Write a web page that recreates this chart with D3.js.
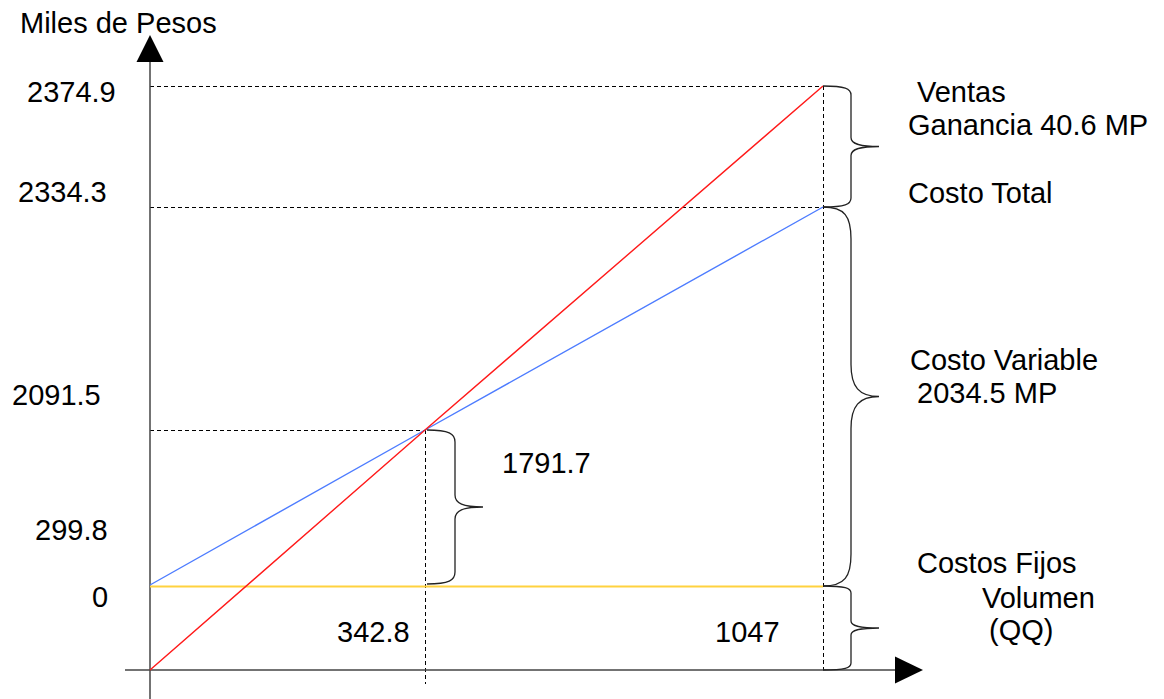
<!DOCTYPE html>
<html>
<head>
<meta charset="utf-8">
<script src="https://cdn.jsdelivr.net/npm/d3@7"></script>
<style>
  html, body { margin: 0; padding: 0; background: #fff; }
  svg { display: block; }
  text { font-family: "Liberation Sans", Arial, sans-serif; font-size: 29px; fill: #000; }
</style>
</head>
<body>
<svg id="chart" width="1164" height="699"></svg>
<script>
// ---------- data ----------
const quantities   = [0, 342.8, 1047];          // Volumen (QQ)
const ventas       = [0, 2091.5, 2374.9];       // Ventas
const costoTotal   = [299.8, 2091.5, 2334.3];   // Costo Total
const costosFijos  = [299.8, 299.8, 299.8];     // Costos Fijos
const yTickLabels  = ["2374.9", "2334.3", "2091.5", "299.8", "0"];
const xTickLabels  = ["342.8", "1047"];
const yAxisTitle   = "Miles de Pesos";
const breakEvenGap = "1791.7";
const rightNotes   = ["Ventas", "Ganancia 40.6 MP", "Costo Total", "Costo Variable", "2034.5 MP", "Costos Fijos", "Volumen", "(QQ)"];

// ---------- scales (schematic, piecewise) ----------
const x = d3.scaleLinear().domain([0, 342.8, 1047]).range([150, 425, 823]);
const y = d3.scaleLinear().domain([0, 299.8, 2091.5, 2334.3, 2374.9]).range([670, 585, 430, 207, 86]);

const svg = d3.select("#chart");
const axisColor = "#444";
const last = quantities.length - 1;

// ---------- dashed guide lines ----------
const dash = "4,3";
const guides = svg.append("g").attr("stroke", "#000").attr("stroke-width", 1)
  .attr("stroke-dasharray", dash).attr("shape-rendering", "crispEdges");
guides.append("line").attr("x1", x(0)).attr("x2", x(quantities[last])).attr("y1", y(ventas[last])).attr("y2", y(ventas[last]));
guides.append("line").attr("x1", x(0)).attr("x2", x(quantities[last])).attr("y1", y(costoTotal[last])).attr("y2", y(costoTotal[last]));
guides.append("line").attr("x1", x(0)).attr("x2", x(quantities[1])).attr("y1", y(ventas[1])).attr("y2", y(ventas[1]));
guides.append("line").attr("x1", x(quantities[last])).attr("x2", x(quantities[last])).attr("y1", y(ventas[last])).attr("y2", y(0));
guides.append("line").attr("x1", x(quantities[1])).attr("x2", x(quantities[1])).attr("y1", y(ventas[1])).attr("y2", y(0) + 14);

// ---------- axes ----------
const axes = svg.append("g").attr("stroke", axisColor).attr("stroke-width", 1.5);
axes.append("line").attr("x1", x(0)).attr("x2", x(0)).attr("y1", 60).attr("y2", 699);
axes.append("line").attr("x1", x(0) - 25).attr("x2", 897).attr("y1", y(0)).attr("y2", y(0));
svg.append("path").attr("d", `M${x(0) - 13.5},62 L${x(0) + 13.5},62 L${x(0)},35 Z`).attr("fill", "#000");
svg.append("path").attr("d", `M895,${y(0) - 13.5} L895,${y(0) + 13.5} L923,${y(0)} Z`).attr("fill", "#000");

// ---------- series lines ----------
const lineGen = vals => d3.line().x((d, i) => x(quantities[i])).y(d => y(d))(vals);
svg.append("path").attr("d", lineGen(costosFijos)).attr("fill", "none").attr("stroke", "#ffd23f").attr("stroke-width", 2)
  .attr("transform", "translate(0,1.5)");
svg.append("path").attr("d", lineGen(costoTotal)).attr("fill", "none").attr("stroke", "#4d7cff").attr("stroke-width", 1.4);
svg.append("path").attr("d", lineGen(ventas)).attr("fill", "none").attr("stroke", "#ff1a1a").attr("stroke-width", 1.4);

// ---------- braces ----------
function brace(x0, y0, y1, r, t) {
  const xv = x0 + 28, xt = x0 + 56, ym = (y0 + y1) / 2;
  return `M${x0},${y0} C${x0 + 22},${y0} ${xv},${y0 + r * 0.3} ${xv},${y0 + r}` +
         ` L${xv},${ym - t}` +
         ` C${xv},${ym - t * 0.3} ${xv + 8},${ym} ${xt},${ym}` +
         ` C${xv + 8},${ym} ${xv},${ym + t * 0.3} ${xv},${ym + t}` +
         ` L${xv},${y1 - r}` +
         ` C${xv},${y1 - r * 0.3} ${x0 + 22},${y1} ${x0},${y1}`;
}
const braces = svg.append("g").attr("fill", "none").attr("stroke", "#222").attr("stroke-width", 1.3);
braces.append("path").attr("d", brace(x(quantities[last]), y(ventas[last]), y(costoTotal[last]), 9, 9));
braces.append("path").attr("d", brace(x(quantities[last]), y(costoTotal[last]), y(costosFijos[last]) + 1, 32, 32));
braces.append("path").attr("d", brace(x(quantities[last]), y(costosFijos[last]) + 1, y(0), 7, 7));
braces.append("path").attr("d", brace(x(quantities[1]) + 2, y(ventas[1]), y(costosFijos[1]) - 1, 12, 12));

// ---------- texts ----------
svg.append("text").attr("x", 20).attr("y", 33).text(yAxisTitle);

const yLabelLayout = [
  { v: 2374.9, dx: 27, dy: 16 },
  { v: 2334.3, dx: 18, dy: -5 },
  { v: 2091.5, dx: 12, dy: -25 },
  { v: 299.8,  dx: 35, dy: -45 },
  { v: 0,      dx: 92, dy: -63 }
];
yTickLabels.forEach((t, i) => {
  svg.append("text").attr("x", yLabelLayout[i].dx).attr("y", y(yLabelLayout[i].v) + yLabelLayout[i].dy).text(t);
});

const xLabelLayout = [{ q: 342.8, dx: -88 }, { q: 1047, dx: -108 }];
xTickLabels.forEach((t, i) => {
  svg.append("text").attr("x", x(xLabelLayout[i].q) + xLabelLayout[i].dx).attr("y", y(0) - 28).text(t);
});

svg.append("text").attr("x", 502).attr("y", 473).text(breakEvenGap);

const noteLayout = [
  [917, 102], [908, 135], [908, 203], [910, 370], [917, 403], [917, 573], [982, 608], [989, 640]
];
rightNotes.forEach((t, i) => {
  svg.append("text").attr("x", noteLayout[i][0]).attr("y", noteLayout[i][1]).text(t);
});
</script>
</body>
</html>
